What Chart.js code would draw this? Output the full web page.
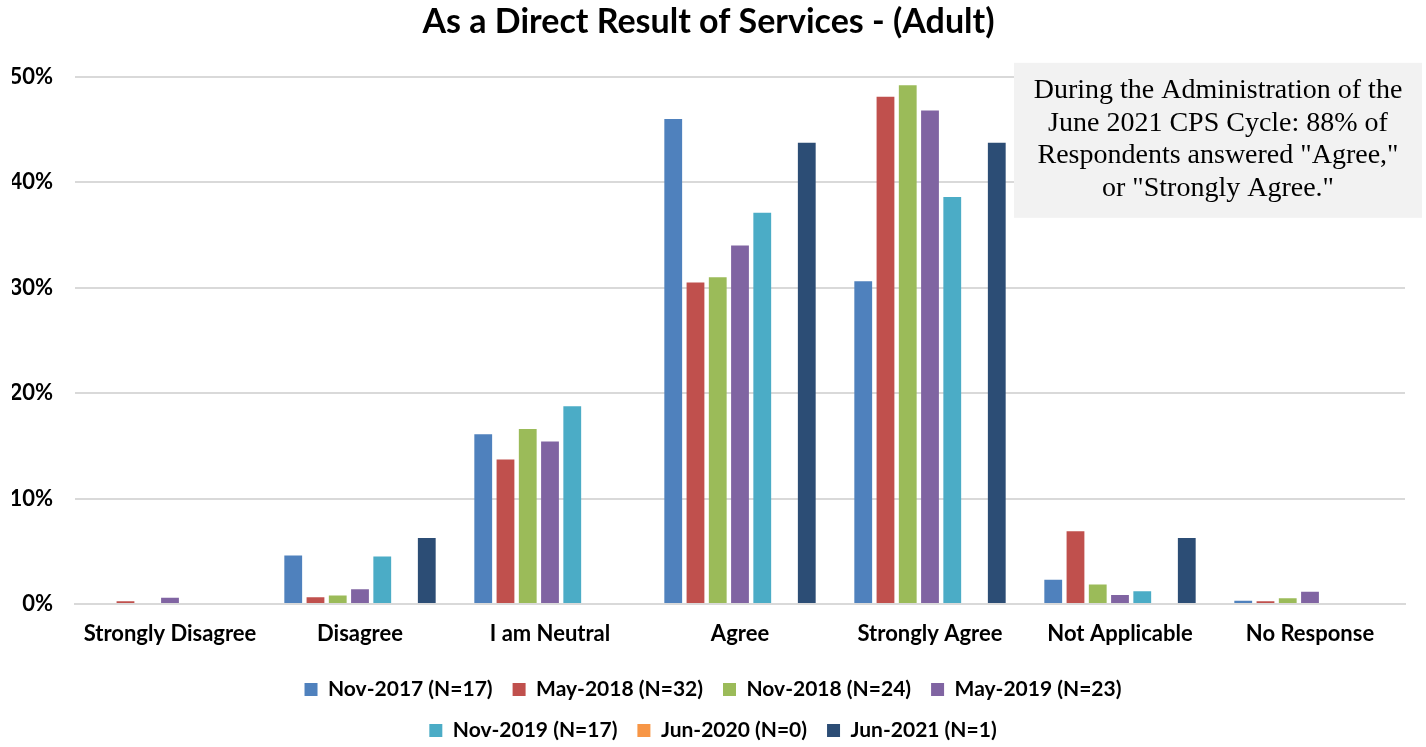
<!DOCTYPE html>
<html>
<head>
<meta charset="utf-8">
<script src="https://cdn.jsdelivr.net/npm/chart.js@4.4.1/dist/chart.umd.min.js"></script>
<style>
  html, body { margin: 0; padding: 0; background: #fff; }
  #wrap { width: 1426px; height: 747px; position: relative; }
</style>
</head>
<body>
<div id="wrap"><canvas id="barChart"></canvas></div>
<script>
// answers (x axis)
const categories = ["Strongly Disagree", "Disagree", "I am Neutral", "Agree", "Strongly Agree", "Not Applicable", "No Response"];

// percent of respondents per cycle
const nov2017 = [0, 4.6, 16.1, 46.0, 30.6, 2.3, 0.3];
const may2018 = [0.25, 0.65, 13.7, 30.5, 48.1, 6.9, 0.25];
const nov2018 = [0, 0.8, 16.6, 31.0, 49.2, 1.85, 0.55];
const may2019 = [0.6, 1.4, 15.4, 34.0, 46.8, 0.85, 1.15];
const nov2019 = [0, 4.5, 18.75, 37.1, 38.6, 1.2, 0];
const jun2020 = [0, 0, 0, 0, 0, 0, 0];
const jun2021 = [0, 6.25, 0, 43.75, 43.75, 6.25, 0];

const seriesNames = ["Nov-2017 (N=17)", "May-2018 (N=32)", "Nov-2018 (N=24)", "May-2019 (N=23)", "Nov-2019 (N=17)", "Jun-2020 (N=0)", "Jun-2021 (N=1)"];
const seriesColors = ["#4f81bd", "#c0504d", "#9bbb59", "#8064a2", "#4bacc6", "#f79646", "#2c4d75"];
const seriesData = [nov2017, may2018, nov2018, may2019, nov2019, jun2020, jun2021];

const noteLines = ["During the Administration of the", "June 2021 CPS Cycle: 88% of", "Respondents answered \"Agree,\"", "or \"Strongly Agree.\""];

const LEGEND_W = 920; // forces the legend onto two rows

// legend wraps after 4 items like the original
const legendRows = {
  id: "legendRows",
  beforeLayout(chart) {
    const lg = chart.legend;
    if (!lg || lg._rowPatch) return;
    const fit = lg.fit.bind(lg);
    lg.fit = function () {
      const full = this.maxWidth;
      this.maxWidth = LEGEND_W;
      fit();
      this.maxWidth = full;
      this.width = full;
      this.height -= 4;
    };
    lg._rowPatch = true;
  },
  afterLayout(chart) {
    const lg = chart.legend;
    if (!lg) return;
    lg.left = (chart.width - LEGEND_W) / 2;
    lg.right = lg.left + LEGEND_W;
  }
};

// grey note box at top right
const noteBox = {
  id: "noteBox",
  afterDatasetsDraw(chart) {
    const ctx = chart.ctx;
    const area = chart.chartArea;
    const w = 408, h = 155;
    const x = area.right - 391;
    const y = area.top - 14;
    ctx.save();
    ctx.fillStyle = "#f2f2f2";
    ctx.fillRect(x, y, w, h);
    ctx.fillStyle = "#000";
    ctx.font = "28px 'Liberation Serif', 'Times New Roman', serif";
    ctx.textAlign = "center";
    ctx.textBaseline = "middle";
    noteLines.forEach((line, i) => {
      ctx.fillText(line, x + w / 2, y + 28 + i * 32.5);
    });
    ctx.restore();
  }
};

new Chart("barChart", {
  type: "bar",
  data: {
    labels: categories,
    datasets: seriesData.map((d, i) => ({
      label: seriesNames[i],
      data: d,
      backgroundColor: seriesColors[i],
      borderWidth: 0
    }))
  },
  options: {
    responsive: true,
    maintainAspectRatio: false,
    animation: false,
    datasets: {
      bar: { categoryPercentage: 0.82, barPercentage: 0.8 }
    },
    layout: { padding: { left: 12, right: 21, top: 0, bottom: 0 } },
    plugins: {
      title: {
        display: true,
        text: "As a Direct Result of Services - (Adult)",
        color: "#000",
        font: { family: "Lato", size: 34, weight: "bold" },
        padding: { top: 2, bottom: 34 }
      },
      legend: {
        position: "bottom",
        labels: {
          color: "#000",
          font: { family: "Lato", size: 21, weight: "bold" },
          boxWidth: 13,
          boxHeight: 13,
          padding: 20
        }
      },
      tooltip: { enabled: false }
    },
    scales: {
      x: {
        grid: { display: false },
        border: { display: true, color: "#d9d9d9", width: 2 },
        ticks: {
          color: "#000",
          font: { family: "Lato", size: 22, weight: "bold" },
          padding: 9,
          maxRotation: 0
        },
        afterFit: s => { s.height = 55; }
      },
      y: {
        min: 0,
        max: 50,
        grid: { color: "#d9d9d9", lineWidth: 2, drawTicks: false },
        border: { display: false },
        ticks: {
          stepSize: 10,
          color: "#000",
          font: { family: "Lato", size: 22, weight: "bold" },
          padding: 22,
          callback: v => v + "%"
        },
        afterFit: s => { s.width = 63; }
      }
    }
  },
  plugins: [legendRows, noteBox]
});
</script>
</body>
</html>
